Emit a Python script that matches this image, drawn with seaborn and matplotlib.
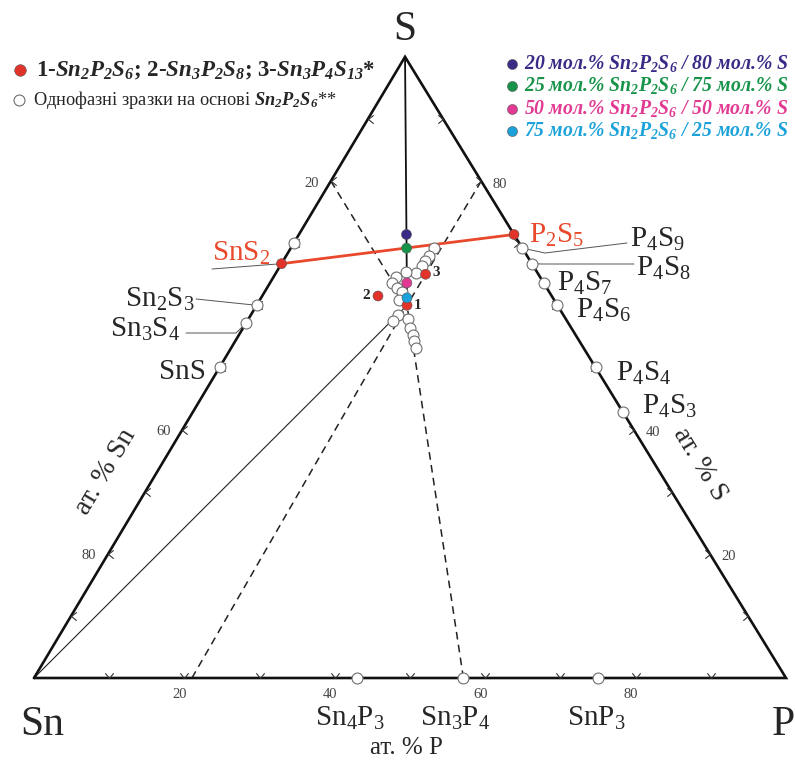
import numpy as np
import pandas as pd
import matplotlib
matplotlib.use("Agg")
import matplotlib.pyplot as plt
from matplotlib.path import Path
import seaborn as sns

sns.set_theme(style="white")
SERIF = "Liberation Serif"
plt.rcParams.update({
    "font.family": [SERIF, "DejaVu Serif"],
    "mathtext.fontset": "custom",
    "mathtext.rm": SERIF,
    "mathtext.it": f"{SERIF}:italic",
    "mathtext.bf": f"{SERIF}:bold",
    "mathtext.bfit": f"{SERIF}:italic:bold",
})

# ---------------------------------------------------------------- data (at.%)
# binary phases on the edges of the Sn–P–S triangle
binary_names = [r"Sn$_2$S$_3$", r"Sn$_3$S$_4$", "SnS",
                r"P$_4$S$_9$", r"P$_4$S$_8$", r"P$_4$S$_7$", r"P$_4$S$_6$",
                r"P$_4$S$_4$", r"P$_4$S$_3$",
                r"Sn$_4$P$_3$", r"Sn$_3$P$_4$", r"SnP$_3$"]
binary_sn = [40.0, 42.9, 50.0, 0.0, 0.0, 0.0, 0.0, 0.0, 0.0, 57.1, 42.9, 25.0]
binary_p = [0.0, 0.0, 0.0, 30.8, 33.3, 36.4, 40.0, 50.0, 57.1, 42.9, 57.1, 75.0]
binary_s = [60.0, 57.1, 50.0, 69.2, 66.7, 63.6, 60.0, 50.0, 42.9, 0.0, 0.0, 0.0]

# SnS2 – P2S5 section
tie_names = [r"SnS$_2$", r"P$_2$S$_5$"]
tie_sn = [33.3, 0.0]
tie_p = [0.0, 28.6]
tie_s = [66.7, 71.4]

# ternary compounds 1-Sn2P2S6, 2-Sn3P2S8, 3-Sn3P4S13
compound_ids = ["1", "2", "3"]
compound_sn = [20.0, 23.1, 15.0]
compound_p = [20.0, 15.4, 20.0]
compound_s = [60.0, 61.5, 65.0]

# Sn2P2S6 / S mixtures
mix_labels = ["20 мол.% $\\mathbfit{Sn_2P_2S_6}$ / 80 мол.% S",
              "25 мол.% $\\mathbfit{Sn_2P_2S_6}$ / 75 мол.% S",
              "50 мол.% $\\mathbfit{Sn_2P_2S_6}$ / 50 мол.% S",
              "75 мол.% $\\mathbfit{Sn_2P_2S_6}$ / 25 мол.% S"]
mix_sn = [14.3, 15.4, 18.2, 19.4]
mix_p = [14.3, 15.4, 18.2, 19.4]
mix_s = [71.4, 69.2, 63.6, 61.2]
mix_colors = ["#3b2a86", "#17944a", "#e23a93", "#1ba2da"]

# single-phase samples based on Sn2P2S6
single_sn = [30.0, 11.7, 13.0, 14.0, 14.7, 16.2, 17.4, 19.1, 20.2, 19.9, 19.6,
             20.6, 21.9, 23.1, 21.0, 21.4, 21.7, 22.0, 22.3]
single_p = [0.0, 19.1, 19.0, 18.8, 18.9, 18.6, 17.3, 16.3, 16.2, 17.3, 18.2,
            18.5, 19.6, 19.4, 21.2, 22.2, 23.1, 23.8, 24.5]
single_s = [70.0, 69.2, 68.0, 67.2, 66.4, 65.2, 65.3, 64.6, 63.6, 62.8, 62.2,
            60.9, 58.5, 57.5, 57.8, 56.4, 55.2, 54.2, 53.2]

# construction lines (end compositions Sn, P, S) drawn towards Sn2P2S6
dashed_from = [(20.0, 0.0, 80.0), (0.0, 20.0, 80.0), (79.0, 21.0, 0.0), (42.9, 57.1, 0.0)]
solid_from = [(0.0, 0.0, 100.0), (100.0, 0.0, 0.0)]

tick_values = [10, 20, 30, 40, 50, 60, 70, 80, 90]
left_tick_labels = {20: "20", 60: "60", 80: "80"}
right_tick_labels = {80: "80", 40: "40", 20: "20"}
bottom_tick_labels = {20: "20", 40: "40", 60: "60", 80: "80"}

# ---------------------------------------------------------------- geometry
W, H = 795, 764
EDGE_PX = 752            # length of the Sn–P edge in pixels
X0_PX, Y0_PX = 34, 678   # Sn corner
APEX_X, APEX_Y = 0.4934, 0.826


def tern(sn, p, s):
    sn, p, s = (np.asarray(v, dtype=float) for v in (sn, p, s))
    tot = sn + p + s
    return (p + s * APEX_X) / tot, s * APEX_Y / tot


def at_px(x, y):
    return (x - X0_PX) / EDGE_PX, (Y0_PX - y) / EDGE_PX


fig = plt.figure(figsize=(W / 100, H / 100), dpi=100)
ax = fig.add_axes([0, 0, 1, 1])

# triangle
tx, ty = tern([100, 0, 0, 100], [0, 100, 0, 0], [0, 0, 100, 0])
ax.plot(tx, ty, color="#111111", lw=1.9, solid_joinstyle="miter", zorder=2)

# construction lines
cx, cy = tern(compound_sn[0], compound_p[0], compound_s[0])
for sn, p, s in dashed_from:
    x0, y0 = tern(sn, p, s)
    ax.plot([x0, cx], [y0, cy], color="#222222", lw=1.1, ls=(0, (5, 3.5)), zorder=1)
sx, sy = tern(*solid_from[0])
ax.plot([sx, cx], [sy, cy], color="#111111", lw=1.3, zorder=1)
snx, sny = tern(*solid_from[1])
ax.plot([snx, cx], [sny, cy], color="#222222", lw=0.8, zorder=1)

# SnS2 – P2S5 section
tlx, tly = tern(tie_sn, tie_p, tie_s)
sns.lineplot(x=tlx, y=tly, ax=ax, color="#e8492c", lw=2.0, sort=False,
             estimator=None, zorder=2, legend=False)

# edge ticks (open chevrons)
tv = np.array(tick_values, dtype=float)
chev_left = Path([(1, 0.8), (0, 0), (1, -0.8)], [Path.MOVETO, Path.LINETO, Path.LINETO])
chev_right = Path([(-1, 0.8), (0, 0), (-1, -0.8)], [Path.MOVETO, Path.LINETO, Path.LINETO])
chev_down = Path([(-0.8, 1), (0, 0), (0.8, 1)], [Path.MOVETO, Path.LINETO, Path.LINETO])
lx, ly = tern(tv, 0 * tv, 100 - tv)
rx, ry = tern(0 * tv, 100 - tv, tv)
bx, by = tern(100 - tv, tv, 0 * tv)
for xs, ys, mk in [(lx, ly, chev_left), (rx, ry, chev_right), (bx, by, chev_down)]:
    ax.plot(xs, ys, ls="none", marker=mk, ms=7.5, mfc="none", mec="#333333",
            mew=0.8, zorder=2)

tick_kw = dict(fontsize=10.5, color="#444444", ha="center", va="center",
               textcoords="offset pixels")
for v, t in left_tick_labels.items():
    ax.annotate(t, tern(v, 0, 100 - v), xytext=(-19, -2), **tick_kw)
for v, t in right_tick_labels.items():
    ax.annotate(t, tern(0, 100 - v, v), xytext=(19, -3), **tick_kw)
for v, t in bottom_tick_labels.items():
    ax.annotate(t, tern(100 - v, v, 0), xytext=(-5, -16), **tick_kw)

# points
hx, hy = tern(single_sn + binary_sn, single_p + binary_p, single_s + binary_s)
hollow = pd.DataFrame({"x": hx, "y": hy})
sns.scatterplot(data=hollow, x="x", y="y", ax=ax, s=62, color="white",
                edgecolor="#6e6e6e", linewidth=0.8, zorder=3, legend=False)

fx, fy = tern(tie_sn + compound_sn + mix_sn, tie_p + compound_p + mix_p,
              tie_s + compound_s + mix_s)
groups = ["red"] * (len(tie_sn) + len(compound_sn)) + mix_colors
filled = pd.DataFrame({"x": fx, "y": fy, "group": groups})
palette = {"red": "#e2332b", **{c: c for c in mix_colors}}
sns.scatterplot(data=filled, x="x", y="y", hue="group", palette=palette, ax=ax,
                s=52, edgecolor="#555555", linewidth=0.4, zorder=4, legend=False)

# numbers next to ternary compounds
num_offsets = [(11, 0), (-12, 0), (11, 2)]
for cid, sn, p, s, off in zip(compound_ids, compound_sn, compound_p, compound_s, num_offsets):
    ax.annotate(cid, tern(sn, p, s), xytext=off, textcoords="offset pixels",
                fontsize=11, fontweight="bold", ha="center", va="center", zorder=5)

# ---------------------------------------------------------------- labels
big = 21
vert_kw = dict(fontsize=30, ha="center", va="baseline")
ax.text(*at_px(405, 40), "S", **vert_kw)
ax.text(*at_px(42, 735), "Sn", **vert_kw)
ax.text(*at_px(772, 735), "P", fontsize=30, ha="left", va="baseline")

binary_label_px = [(160, 307), (145, 337), (182, 379),
                   (658, 247), (664, 276), (585, 291), (604, 318),
                   (644, 381), (670, 414),
                   (350, 726), (455, 726), (596, 726)]
for name, (px, py) in zip(binary_names, binary_label_px):
    ax.text(*at_px(px, py), name, fontsize=big, ha="center", va="baseline")

tie_label_px = [(241, 261), (557, 243)]
for name, (px, py) in zip(tie_names, tie_label_px):
    ax.text(*at_px(px, py), name, fontsize=big, ha="center", va="baseline",
            color="#e8492c")

# leader lines
lead_kw = dict(color="#555555", lw=0.7, zorder=1)
pts = dict(zip(binary_names, zip(*tern(binary_sn, binary_p, binary_s))))
tie_pts = dict(zip(tie_names, zip(*tern(tie_sn, tie_p, tie_s))))
leaders = [
    (tie_pts[tie_names[0]], [at_px(212, 269)]),
    (pts[binary_names[0]], [at_px(196, 299)]),
    (pts[binary_names[1]], [at_px(236, 333), at_px(186, 333)]),
    (pts[binary_names[3]], [at_px(545, 253), at_px(627, 243)]),
    (pts[binary_names[4]], [at_px(542, 264), at_px(634, 264)]),
]
for start, rest in leaders:
    xs = [start[0]] + [r[0] for r in rest]
    ys = [start[1]] + [r[1] for r in rest]
    ax.plot(xs, ys, **lead_kw)

# axis titles
ax.text(*at_px(406, 754), "ат. % P", fontsize=18, ha="center", va="baseline")
ax.text(*at_px(106, 472), "ат. % Sn", fontsize=20, ha="center", va="center",
        rotation=59.2)
ax.text(*at_px(700, 464), "ат. % S", fontsize=20, ha="center", va="center",
        rotation=-58.5)

# ---------------------------------------------------------------- legends
ax.scatter(*at_px(20, 70), s=70, color="#e2332b", edgecolor="#555555", lw=0.4, zorder=4)
ax.text(*at_px(36, 76),
        r"1-$\mathbfit{Sn_2P_2S_6}$; 2-$\mathbfit{Sn_3P_2S_8}$; 3-$\mathbfit{Sn_3P_4S_{13}}$*",
        fontsize=16.5, fontweight="bold", ha="left", va="baseline")
ax.scatter(*at_px(19, 100), s=62, color="white", edgecolor="#6e6e6e", lw=0.8, zorder=4)
ax.text(*at_px(33, 105), r"Однофазні зразки на основі $\mathbfit{Sn_2P_2S_6}$**",
        fontsize=13.2, ha="left", va="baseline")

for i, (lab, col) in enumerate(zip(mix_labels, mix_colors)):
    yy = 64 + i * 22.3
    ax.scatter(*at_px(512, yy), s=52, color=col, edgecolor="#555555", lw=0.4, zorder=4)
    ax.text(*at_px(524, yy + 5), lab, fontsize=14.2, fontweight="bold",
            fontstyle="italic", color=col, ha="left", va="baseline")

ax.set_xlim(-X0_PX / EDGE_PX, (W - X0_PX) / EDGE_PX)
ax.set_ylim(-(H - Y0_PX) / EDGE_PX, Y0_PX / EDGE_PX)
ax.set_aspect("equal")
ax.axis("off")
fig.savefig("out.png", dpi=100, facecolor="white")
